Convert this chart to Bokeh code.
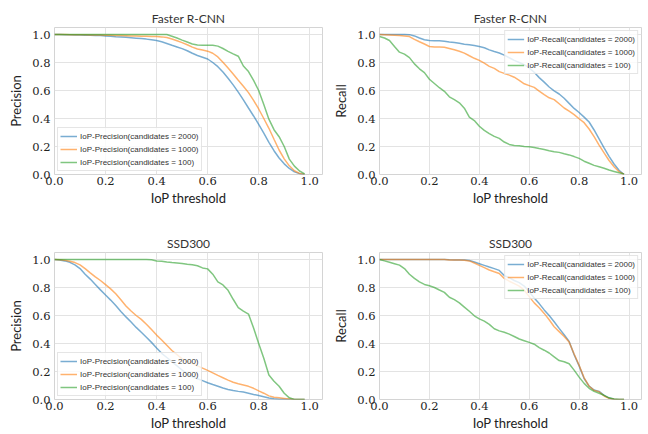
from bokeh.plotting import figure
from bokeh.layouts import column, row
from bokeh.models import Range1d, FixedTicker, PrintfTickFormatter
from bokeh.embed import file_html
from bokeh.resources import INLINE

# ---------------- data ----------------
iop_threshold = [0.00, 0.02, 0.04, 0.06, 0.08, 0.10, 0.12, 0.14, 0.16, 0.18,
                 0.20, 0.22, 0.24, 0.26, 0.28, 0.30, 0.32, 0.34, 0.36, 0.38,
                 0.40, 0.42, 0.44, 0.46, 0.48, 0.50, 0.52, 0.54, 0.56, 0.58,
                 0.60, 0.62, 0.64, 0.66, 0.68, 0.70, 0.72, 0.74, 0.76, 0.78,
                 0.80, 0.82, 0.84, 0.86, 0.88, 0.90, 0.92, 0.94, 0.96, 0.98]

ticks = [0.0, 0.2, 0.4, 0.6, 0.8, 1.0]
candidates = ["2000", "1000", "100"]

# Faster R-CNN precision
frcnn_prec_2000 = [1.000, 1.000, 0.999, 0.998, 0.997, 0.996, 0.995, 0.994, 0.993, 0.992,
                   0.990, 0.987, 0.984, 0.982, 0.980, 0.977, 0.974, 0.971, 0.967, 0.962,
                   0.957, 0.948, 0.936, 0.923, 0.911, 0.899, 0.884, 0.866, 0.850, 0.838,
                   0.825, 0.800, 0.770, 0.732, 0.688, 0.640, 0.588, 0.533, 0.475, 0.418,
                   0.358, 0.295, 0.230, 0.170, 0.118, 0.076, 0.043, 0.019, 0.006, 0.000]
frcnn_prec_1000 = [1.000, 1.000, 1.000, 0.999, 0.999, 0.998, 0.998, 0.997, 0.997, 0.996,
                   0.995, 0.994, 0.993, 0.992, 0.991, 0.990, 0.989, 0.988, 0.987, 0.986,
                   0.985, 0.983, 0.978, 0.968, 0.955, 0.942, 0.927, 0.910, 0.897, 0.889,
                   0.881, 0.866, 0.840, 0.802, 0.760, 0.718, 0.673, 0.630, 0.585, 0.530,
                   0.468, 0.400, 0.330, 0.252, 0.175, 0.112, 0.062, 0.027, 0.008, 0.000]
frcnn_prec_100 = [1.000, 1.000, 1.000, 1.000, 1.000, 1.000, 1.000, 1.000, 1.000, 1.000,
                  1.000, 1.000, 1.000, 1.000, 1.000, 1.000, 1.000, 1.000, 1.000, 1.000,
                  1.000, 1.000, 1.000, 0.988, 0.975, 0.960, 0.946, 0.932, 0.925, 0.924,
                  0.924, 0.923, 0.917, 0.900, 0.880, 0.862, 0.845, 0.775, 0.735, 0.672,
                  0.600, 0.500, 0.395, 0.320, 0.270, 0.200, 0.110, 0.060, 0.025, 0.005]

# Faster R-CNN recall
frcnn_rec_2000 = [1.000, 1.000, 1.000, 1.000, 1.000, 1.000, 0.999, 0.990, 0.975, 0.962,
                  0.958, 0.956, 0.955, 0.952, 0.947, 0.943, 0.937, 0.931, 0.927, 0.921,
                  0.914, 0.905, 0.890, 0.878, 0.868, 0.853, 0.834, 0.815, 0.800, 0.785,
                  0.762, 0.730, 0.692, 0.660, 0.625, 0.598, 0.575, 0.545, 0.508, 0.472,
                  0.443, 0.410, 0.375, 0.318, 0.255, 0.190, 0.130, 0.075, 0.030, 0.000]
frcnn_rec_1000 = [1.000, 0.999, 0.997, 0.995, 0.993, 0.990, 0.985, 0.965, 0.948, 0.932,
                  0.914, 0.911, 0.910, 0.909, 0.900, 0.891, 0.880, 0.867, 0.848, 0.830,
                  0.815, 0.795, 0.772, 0.758, 0.735, 0.722, 0.710, 0.695, 0.672, 0.648,
                  0.635, 0.622, 0.595, 0.570, 0.548, 0.535, 0.505, 0.475, 0.452, 0.428,
                  0.398, 0.370, 0.325, 0.270, 0.210, 0.155, 0.100, 0.055, 0.020, 0.000]
frcnn_rec_100 = [0.986, 0.975, 0.957, 0.915, 0.874, 0.860, 0.835, 0.790, 0.755, 0.728,
                 0.680, 0.650, 0.620, 0.594, 0.555, 0.535, 0.512, 0.474, 0.410, 0.385,
                 0.345, 0.315, 0.292, 0.272, 0.258, 0.232, 0.215, 0.207, 0.205, 0.200,
                 0.198, 0.193, 0.185, 0.178, 0.170, 0.163, 0.158, 0.148, 0.140, 0.128,
                 0.115, 0.095, 0.080, 0.065, 0.055, 0.045, 0.032, 0.022, 0.012, 0.003]

# SSD300 precision
ssd_prec_2000 = [1.000, 0.997, 0.990, 0.980, 0.962, 0.935, 0.895, 0.860, 0.822, 0.783,
                 0.746, 0.710, 0.672, 0.628, 0.590, 0.553, 0.515, 0.480, 0.445, 0.408,
                 0.368, 0.330, 0.300, 0.270, 0.240, 0.210, 0.185, 0.162, 0.148, 0.135,
                 0.120, 0.107, 0.095, 0.082, 0.072, 0.064, 0.058, 0.053, 0.045, 0.036,
                 0.028, 0.019, 0.010, 0.005, 0.002, 0.001, 0.000, 0.000, 0.000, 0.000]
ssd_prec_1000 = [1.000, 0.998, 0.994, 0.988, 0.978, 0.962, 0.935, 0.905, 0.876, 0.850,
                 0.820, 0.790, 0.755, 0.712, 0.668, 0.632, 0.600, 0.572, 0.538, 0.500,
                 0.460, 0.425, 0.388, 0.350, 0.320, 0.290, 0.273, 0.256, 0.240, 0.224,
                 0.208, 0.190, 0.172, 0.155, 0.138, 0.123, 0.112, 0.103, 0.094, 0.080,
                 0.062, 0.045, 0.026, 0.016, 0.012, 0.008, 0.004, 0.000, 0.000, 0.000]
ssd_prec_100 = [1.000, 1.000, 1.000, 1.000, 1.000, 1.000, 1.000, 1.000, 1.000, 1.000,
                1.000, 1.000, 1.000, 1.000, 1.000, 1.000, 1.000, 1.000, 1.000, 0.998,
                0.990, 0.988, 0.982, 0.978, 0.975, 0.972, 0.966, 0.962, 0.955, 0.940,
                0.933, 0.895, 0.840, 0.818, 0.780, 0.716, 0.657, 0.632, 0.610, 0.510,
                0.400, 0.295, 0.175, 0.130, 0.095, 0.045, 0.012, 0.000, 0.000, 0.000]

# SSD300 recall
ssd_rec_2000 = [1.000, 1.000, 1.000, 1.000, 1.000, 1.000, 1.000, 1.000, 1.000, 1.000,
                1.000, 1.000, 1.000, 1.000, 0.998, 0.997, 0.997, 0.996, 0.993, 0.982,
                0.970, 0.958, 0.946, 0.935, 0.922, 0.885, 0.870, 0.850, 0.835, 0.810,
                0.770, 0.725, 0.685, 0.640, 0.600, 0.555, 0.508, 0.462, 0.415, 0.320,
                0.240, 0.150, 0.095, 0.068, 0.058, 0.030, 0.010, 0.002, 0.000, 0.000]
ssd_rec_1000 = [1.000, 1.000, 1.000, 1.000, 1.000, 1.000, 1.000, 1.000, 1.000, 1.000,
                1.000, 1.000, 1.000, 1.000, 0.997, 0.996, 0.996, 0.995, 0.990, 0.975,
                0.958, 0.942, 0.925, 0.912, 0.900, 0.865, 0.845, 0.828, 0.810, 0.780,
                0.735, 0.690, 0.655, 0.615, 0.570, 0.520, 0.485, 0.450, 0.410, 0.325,
                0.245, 0.155, 0.095, 0.065, 0.055, 0.025, 0.008, 0.001, 0.000, 0.000]
ssd_rec_100 = [1.000, 0.990, 0.980, 0.970, 0.960, 0.935, 0.895, 0.865, 0.840, 0.822,
               0.812, 0.800, 0.782, 0.765, 0.730, 0.713, 0.690, 0.660, 0.630, 0.598,
               0.576, 0.560, 0.537, 0.505, 0.490, 0.480, 0.467, 0.450, 0.432, 0.420,
               0.408, 0.395, 0.370, 0.352, 0.332, 0.305, 0.278, 0.270, 0.255, 0.210,
               0.160, 0.115, 0.080, 0.058, 0.045, 0.030, 0.012, 0.004, 0.000, 0.000]

colors = ["#1f77b4", "#ff7f0e", "#2ca02c"]

TICK_FONT = "DejaVu Serif"
LABEL_FONT = "Lato"
LEGEND_FONT = "Liberation Sans"


def make_plot(title, ylabel, series, metric, legend_loc, w, h, bl, br, bt, bb):
    p = figure(width=w, height=h, output_backend="svg", toolbar_location=None,
               x_range=Range1d(0, 1.05), y_range=Range1d(0, 1.05),
               min_border_left=bl, min_border_right=br,
               min_border_top=bt, min_border_bottom=bb,
               title=title)
    p.title.align = "center"
    p.title.text_font = LABEL_FONT
    p.title.text_font_size = "12px"
    p.title.text_font_style = "normal"
    p.title.text_color = "#333333"
    p.title.standoff = 4

    for ys, c, cand in zip(series, colors, candidates):
        p.line(iop_threshold, ys, line_color=c, line_alpha=0.6, line_width=1.5,
               legend_label=f"IoP-{metric}(candidates = {cand})")

    for ax in (p.xaxis[0], p.yaxis[0]):
        ax.ticker = FixedTicker(ticks=ticks)
        ax.formatter = PrintfTickFormatter(format="%.1f")
        ax.major_tick_out = 0
        ax.major_tick_in = 0
        ax.minor_tick_out = 0
        ax.minor_tick_in = 0
        ax.axis_line_color = None
        ax.major_label_text_font = TICK_FONT
        ax.major_label_text_font_size = "11.5px"
        ax.major_label_text_color = "#222222"
        ax.axis_label_text_font = LABEL_FONT
        ax.axis_label_text_font_size = "13px"
        ax.axis_label_text_font_style = "normal"
        ax.axis_label_text_color = "#222222"

    p.xaxis.axis_label = "IoP threshold"
    p.yaxis.axis_label = ylabel
    p.xaxis.major_label_standoff = 2
    p.xaxis.axis_label_standoff = 2
    p.yaxis.major_label_standoff = 4
    p.yaxis.axis_label_standoff = 5

    p.xgrid.ticker = FixedTicker(ticks=ticks)
    p.ygrid.ticker = FixedTicker(ticks=ticks)
    p.xgrid.grid_line_color = "#e3e3e3"
    p.ygrid.grid_line_color = "#e3e3e3"
    p.outline_line_color = "#d4d4d4"
    p.outline_line_width = 1

    lg = p.legend[0]
    lg.location = legend_loc
    lg.margin = 3
    lg.padding = 2
    lg.spacing = 1
    lg.label_height = 12
    lg.glyph_height = 12
    lg.glyph_width = 17
    lg.label_standoff = 3
    lg.label_text_font = LEGEND_FONT
    lg.label_text_font_size = "8px"
    lg.label_text_color = "#333333"
    lg.background_fill_alpha = 0.8
    lg.border_line_color = "#cccccc"
    lg.border_line_width = 1
    return p


p1 = make_plot("Faster R-CNN", "Precision",
               [frcnn_prec_2000, frcnn_prec_1000, frcnn_prec_100], "Precision",
               "bottom_left", 330, 216, 54, 8, 26, 42)
p2 = make_plot("Faster R-CNN", "Recall",
               [frcnn_rec_2000, frcnn_rec_1000, frcnn_rec_100], "Recall",
               "top_right", 318, 216, 44, 7, 27, 41)
p3 = make_plot("SSD300", "Precision",
               [ssd_prec_2000, ssd_prec_1000, ssd_prec_100], "Precision",
               "bottom_left", 330, 218, 54, 8, 35, 35)
p4 = make_plot("SSD300", "Recall",
               [ssd_rec_2000, ssd_rec_1000, ssd_rec_100], "Recall",
               "top_right", 318, 218, 44, 7, 36, 34)

layout = column(row(p1, p2), row(p3, p4))

open("out.html", "w").write(file_html(layout, INLINE))
